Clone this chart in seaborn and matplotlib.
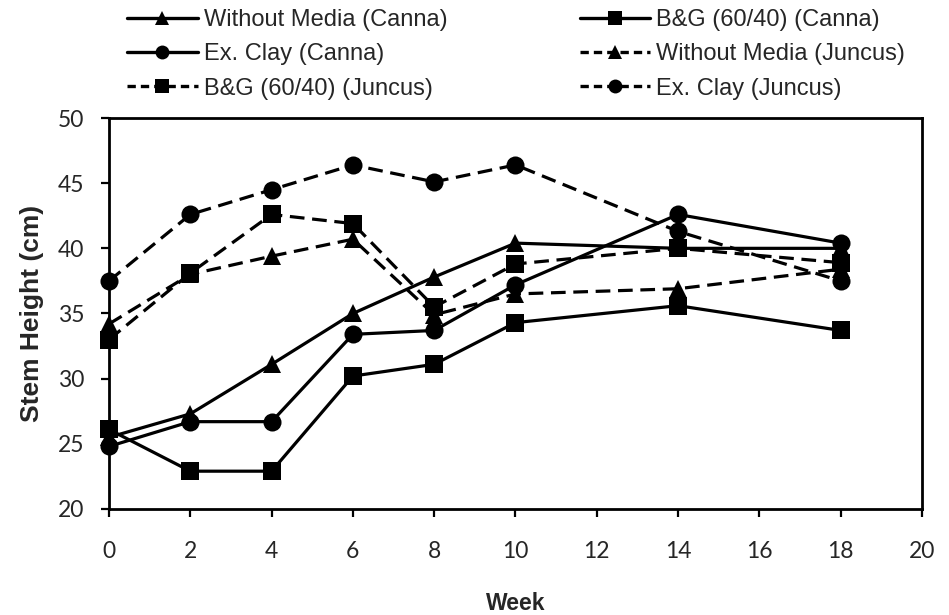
import matplotlib
matplotlib.use("Agg")
import matplotlib.pyplot as plt
from matplotlib.lines import Line2D
from matplotlib import font_manager
import seaborn as sns
import pandas as pd

weeks = [0, 2, 4, 6, 8, 10, 14, 18]

without_media_canna = [25.5, 27.3, 31.1, 35.0, 37.8, 40.4, 40.0, 40.0]
bg_canna = [26.1, 22.9, 22.9, 30.2, 31.1, 34.3, 35.6, 33.7]
ex_clay_canna = [24.8, 26.7, 26.7, 33.4, 33.7, 37.2, 42.6, 40.4]
without_media_juncus = [34.2, 38.0, 39.4, 40.7, 34.9, 36.5, 36.9, 38.4]
bg_juncus = [33.0, 38.1, 42.6, 41.9, 35.5, 38.8, 40.0, 38.9]
ex_clay_juncus = [37.5, 42.6, 44.5, 46.4, 45.1, 46.4, 41.3, 37.5]

series_names = [
    "Without Media (Canna)",
    "B&G (60/40) (Canna)",
    "Ex. Clay (Canna)",
    "Without Media (Juncus)",
    "B&G (60/40) (Juncus)",
    "Ex. Clay (Juncus)",
]
series_values = [without_media_canna, bg_canna, ex_clay_canna,
                 without_media_juncus, bg_juncus, ex_clay_juncus]
series_markers = ["^", "s", "o", "^", "s", "o"]
series_dashed = [False, False, False, True, True, True]

frames = []
for name, vals in zip(series_names, series_values):
    frames.append(pd.DataFrame({"Week": weeks, "Height": vals, "Series": name}))
df = pd.concat(frames, ignore_index=True)

sns.set_theme(style="ticks")
plt.rcParams["font.family"] = ["Liberation Sans", "DejaVu Sans"]

installed = {f.name for f in font_manager.fontManager.ttflist}
narrow = "Liberation Sans Narrow" if "Liberation Sans Narrow" in installed else "Liberation Sans"

fig = plt.figure(figsize=(9.49, 6.15), dpi=100)
ax = fig.add_axes([0.1149, 0.1724, 0.9715 - 0.1149, 0.8081 - 0.1724])

dash_pattern = (4.6, 2.4)
sns.lineplot(
    data=df, x="Week", y="Height", hue="Series", style="Series",
    hue_order=series_names, style_order=series_names,
    palette=["black"] * 6,
    markers=dict(zip(series_names, series_markers)),
    dashes={n: (dash_pattern if d else "") for n, d in zip(series_names, series_dashed)},
    linewidth=2.3, markersize=13, markeredgewidth=0,
    legend=False, ax=ax, clip_on=False,
)

ax.set_xlim(0, 20)
ax.set_ylim(20, 50)
ax.set_xticks(range(0, 21, 2))
ax.set_yticks(range(20, 51, 5))
for sp in ax.spines.values():
    sp.set_visible(True)
    sp.set_color("black")
    sp.set_linewidth(2.0)
ax.tick_params(direction="out", length=6, width=1.6, color="black")
for lab in ax.get_xticklabels() + ax.get_yticklabels():
    lab.set_family(["Lato", "DejaVu Sans"])
    lab.set_fontsize(16.5)
ax.tick_params(axis="x", pad=17)
ax.tick_params(axis="y", pad=12)

ax.set_xlabel("Week", fontsize=16.5, fontweight="bold", labelpad=22,
              family=[narrow, "DejaVu Sans"])
ax.set_ylabel("Stem Height (cm)", fontsize=19, fontweight="bold", labelpad=10)

# row-wise legend order in a two-column layout (matplotlib fills columns first)
legend_order = [0, 2, 4, 1, 3, 5]
handles, labels = [], []
for i in legend_order:
    d = series_dashed[i]
    handles.append(Line2D([0], [0], color="black", lw=2.4, marker=series_markers[i],
                          markersize=10, markeredgewidth=0,
                          linestyle=(0, (2.5, 1.5)) if d else "-"))
    labels.append(series_names[i])
fig.legend(handles, labels, loc="upper left", bbox_to_anchor=(127 / 949, 1 - 9 / 615),
           ncol=2, frameon=False, fontsize=17, handlelength=3.0,
           handletextpad=0.25, columnspacing=5.6, labelspacing=0.52,
           borderpad=0, borderaxespad=0)

fig.savefig("out.png", dpi=100)
